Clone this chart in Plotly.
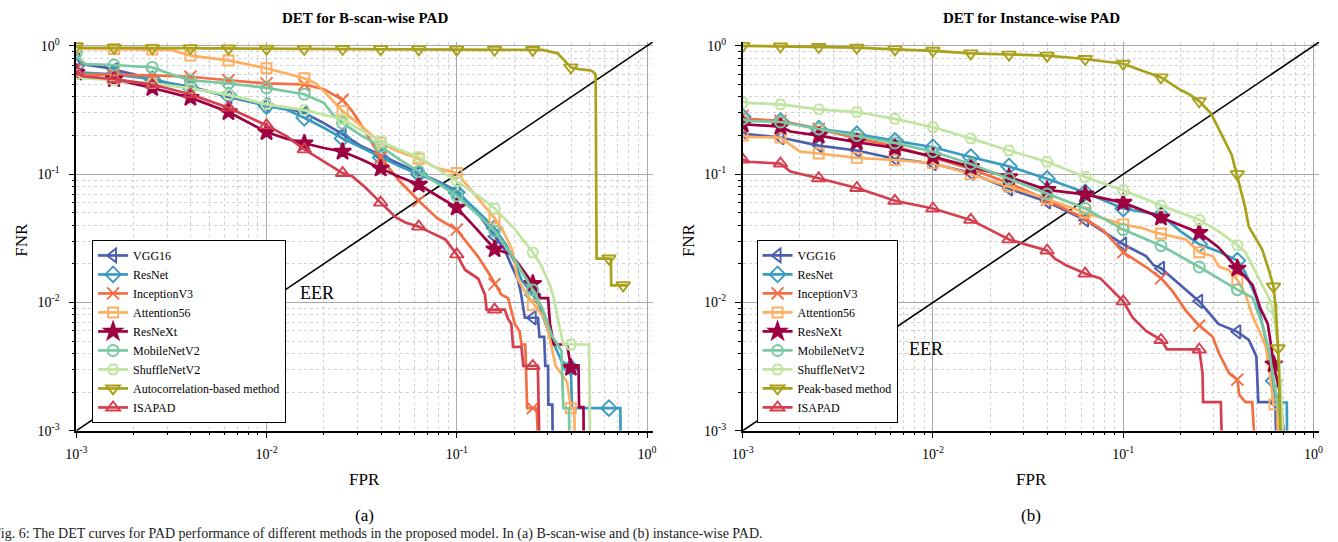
import plotly.graph_objects as go

W, H = 1338, 542
FONT = "Liberation Serif"

# ---------------- ticks ----------------
MAJOR_TICKS = [0.001, 0.01, 0.1, 1.0]
MAJOR_TEXT = ["10<sup>-3</sup>", "10<sup>-2</sup>", "10<sup>-1</sup>", "10<sup>0</sup>"]
MINOR_TICKS = [m * 10.0 ** e for e in (-3, -2, -1) for m in range(2, 10)]

# marker positions along FPR (every 0.2 decade)
MARKER_FPR = [0.001, 0.00158, 0.00251, 0.00398, 0.00631, 0.01, 0.0158, 0.0251,
              0.0398, 0.0631, 0.1, 0.158, 0.251, 0.398, 0.631]

EER_LINE = [0.001, 1.2]

# ---------------- panel (a): B-scan-wise ----------------
A_VGG16_FPR = [0.001, 0.00107, 0.00141, 0.00158, 0.002, 0.00251, 0.00316, 0.00398, 0.00501, 0.00631, 0.00794, 0.01, 0.0126, 0.0158, 0.02, 0.0251, 0.0316, 0.0398, 0.0501, 0.0631, 0.0794, 0.1, 0.126, 0.158, 0.178, 0.195, 0.209, 0.217, 0.228, 0.267, 0.272, 0.288, 0.292, 0.302, 0.303, 0.318, 0.319]
A_VGG16_FNR = [0.80, 0.72, 0.68, 0.65, 0.60, 0.54, 0.51, 0.48, 0.44, 0.40, 0.37, 0.345, 0.33, 0.30, 0.25, 0.205, 0.165, 0.14, 0.12, 0.102, 0.088, 0.074, 0.052, 0.0327, 0.026, 0.019, 0.0153, 0.012, 0.0076, 0.0076, 0.0054, 0.0054, 0.0032, 0.0032, 0.0016, 0.0016, 0.001]
A_VGG16_MK = [0.78, 0.65, 0.54, 0.48, 0.40, 0.345, 0.30, 0.205, 0.14, 0.102, 0.074, 0.0327, 0.0076]

A_RESNET_FPR = [0.001, 0.00107, 0.00158, 0.00251, 0.00398, 0.00631, 0.01, 0.0126, 0.0158, 0.02, 0.0251, 0.0316, 0.0398, 0.0501, 0.0631, 0.0794, 0.1, 0.126, 0.158, 0.182, 0.2, 0.219, 0.251, 0.275, 0.302, 0.331, 0.355, 0.398, 0.403, 0.724, 0.726]
A_RESNET_FNR = [0.70, 0.62, 0.60, 0.55, 0.47, 0.41, 0.34, 0.32, 0.275, 0.23, 0.19, 0.16, 0.135, 0.115, 0.10, 0.087, 0.072, 0.053, 0.038, 0.028, 0.021, 0.015, 0.0115, 0.009, 0.006, 0.0045, 0.0035, 0.0031, 0.0015, 0.0015, 0.001]
A_RESNET_MK = [0.70, 0.60, 0.55, 0.47, 0.41, 0.34, 0.275, 0.19, 0.135, 0.10, 0.072, 0.038, 0.0115, 0.0031, 0.0015]

A_INCEP_FPR = [0.001, 0.00107, 0.00251, 0.00398, 0.00631, 0.01, 0.0158, 0.02, 0.0251, 0.0282, 0.0316, 0.0355, 0.0398, 0.0501, 0.0631, 0.0794, 0.1, 0.1096, 0.1288, 0.1462, 0.1585, 0.1718, 0.1862, 0.195, 0.2018, 0.2138, 0.2188, 0.2291, 0.2344, 0.263, 0.2661]
A_INCEP_FNR = [0.66, 0.60, 0.59, 0.575, 0.54, 0.51, 0.50, 0.46, 0.38, 0.31, 0.24, 0.178, 0.135, 0.088, 0.062, 0.045, 0.037, 0.031, 0.023, 0.0172, 0.0139, 0.0115, 0.0108, 0.0085, 0.0068, 0.006, 0.0047, 0.0047, 0.0015, 0.0015, 0.001]
A_INCEP_MK = [0.66, 0.59, 0.59, 0.575, 0.54, 0.51, 0.50, 0.38, 0.135, 0.062, 0.037, 0.0139, 0.0015]

A_ATTN_FPR = [0.001, 0.00107, 0.00316, 0.00398, 0.00631, 0.01, 0.0158, 0.0182, 0.0204, 0.0224, 0.0251, 0.0302, 0.0355, 0.0398, 0.0479, 0.0631, 0.0794, 0.1, 0.1202, 0.1413, 0.1585, 0.1738, 0.195, 0.2089, 0.2291, 0.257, 0.2884, 0.302, 0.3311, 0.3802, 0.3981, 0.414, 0.4169]
A_ATTN_FNR = [1.0, 0.95, 0.93, 0.84, 0.77, 0.67, 0.56, 0.51, 0.43, 0.37, 0.31, 0.25, 0.205, 0.176, 0.153, 0.132, 0.111, 0.102, 0.074, 0.055, 0.045, 0.037, 0.026, 0.0153, 0.012, 0.0095, 0.0076, 0.006, 0.0032, 0.0024, 0.0015, 0.0015, 0.001]
A_ATTN_MK = [0.98, 0.945, 0.935, 0.84, 0.77, 0.67, 0.56, 0.31, 0.176, 0.132, 0.102, 0.045, 0.0095, 0.0015]

A_RESNEXT_FPR = [0.001, 0.00107, 0.00158, 0.00251, 0.00398, 0.00631, 0.01, 0.0126, 0.0158, 0.02, 0.0251, 0.0316, 0.0398, 0.0501, 0.0631, 0.0794, 0.1, 0.1259, 0.1585, 0.1905, 0.2138, 0.2512, 0.2754, 0.302, 0.309, 0.3236, 0.3802, 0.3981, 0.4365, 0.4395, 0.4634, 0.4645]
A_RESNEXT_FNR = [0.62, 0.57, 0.55, 0.47, 0.395, 0.305, 0.213, 0.19, 0.174, 0.16, 0.15, 0.13, 0.111, 0.095, 0.083, 0.068, 0.055, 0.038, 0.026, 0.024, 0.0195, 0.014, 0.0108, 0.0108, 0.0068, 0.0047, 0.0047, 0.0031, 0.0031, 0.00153, 0.00153, 0.001]
A_RESNEXT_MK = [0.62, 0.55, 0.47, 0.395, 0.305, 0.213, 0.174, 0.15, 0.111, 0.083, 0.055, 0.026, 0.014, 0.0031]

A_MOBILE_FPR = [0.001, 0.00105, 0.00112, 0.00158, 0.00251, 0.00316, 0.00398, 0.00631, 0.01, 0.0158, 0.02, 0.0224, 0.0251, 0.0316, 0.0398, 0.0501, 0.0631, 0.0794, 0.1, 0.1259, 0.1585, 0.1995, 0.2512, 0.2818, 0.3162, 0.3548, 0.3631, 0.389, 0.390]
A_MOBILE_FNR = [0.88, 0.78, 0.72, 0.71, 0.68, 0.60, 0.54, 0.51, 0.47, 0.42, 0.36, 0.29, 0.25, 0.20, 0.165, 0.13, 0.105, 0.085, 0.068, 0.05, 0.036, 0.022, 0.0125, 0.009, 0.0055, 0.0042, 0.0015, 0.0015, 0.001]
A_MOBILE_MK = [0.88, 0.71, 0.68, 0.54, 0.51, 0.47, 0.42, 0.25, 0.165, 0.105, 0.068, 0.036, 0.0125]

A_SHUFFLE_FPR = [0.001, 0.00107, 0.00158, 0.00251, 0.00398, 0.00631, 0.01, 0.0158, 0.0251, 0.0316, 0.0398, 0.0501, 0.0631, 0.0794, 0.1, 0.1259, 0.1585, 0.1995, 0.2512, 0.2754, 0.309, 0.3236, 0.3388, 0.3631, 0.4955, 0.5012]
A_SHUFFLE_FNR = [0.60, 0.56, 0.54, 0.51, 0.466, 0.415, 0.35, 0.316, 0.268, 0.22, 0.18, 0.155, 0.136, 0.11, 0.088, 0.07, 0.054, 0.038, 0.0245, 0.02, 0.0136, 0.0108, 0.0076, 0.0047, 0.0047, 0.001]
A_SHUFFLE_MK = [0.60, 0.54, 0.51, 0.466, 0.415, 0.35, 0.316, 0.268, 0.18, 0.136, 0.088, 0.054, 0.0245, 0.0047]

A_AUTO_FPR = [0.001, 0.00105, 0.00316, 0.01, 0.0316, 0.1, 0.2818, 0.3388, 0.3981, 0.4365, 0.5012, 0.5188, 0.537, 0.5433, 0.6457, 0.6486, 0.787]
A_AUTO_FNR = [1.0, 0.97, 0.96, 0.95, 0.945, 0.935, 0.93, 0.875, 0.68, 0.66, 0.645, 0.63, 0.60, 0.022, 0.022, 0.0136, 0.0136]
A_AUTO_MK = [0.99, 0.965, 0.96, 0.958, 0.955, 0.95, 0.948, 0.946, 0.944, 0.94, 0.935, 0.933, 0.93, 0.68, 0.022]
A_AUTO_EXTRA = [(0.75, 0.0136)]

A_ISAPAD_FPR = [0.001, 0.00107, 0.00158, 0.00251, 0.00398, 0.00631, 0.01, 0.0126, 0.0158, 0.02, 0.0251, 0.0283, 0.0333, 0.0398, 0.0479, 0.0537, 0.0631, 0.0741, 0.0871, 0.1, 0.1104, 0.1297, 0.1406, 0.1435, 0.1786, 0.1862, 0.1936, 0.1977, 0.2188, 0.2239, 0.2667, 0.271]
A_ISAPAD_FNR = [0.63, 0.58, 0.55, 0.50, 0.42, 0.33, 0.24, 0.20, 0.156, 0.125, 0.102, 0.096, 0.078, 0.06, 0.046, 0.042, 0.039, 0.0347, 0.031, 0.0237, 0.018, 0.0153, 0.0115, 0.0088, 0.0088, 0.0074, 0.0068, 0.0045, 0.0045, 0.0032, 0.0032, 0.001]
A_ISAPAD_MK = [0.63, 0.55, 0.50, 0.42, 0.33, 0.24, 0.156, 0.102, 0.06, 0.039, 0.0237, 0.0088, 0.0032]

# ---------------- panel (b): Instance-wise ----------------
B_VGG16_FPR = [0.001, 0.00105, 0.00158, 0.00251, 0.00398, 0.00631, 0.01, 0.0158, 0.0251, 0.0398, 0.0631, 0.1, 0.1122, 0.1318, 0.1445, 0.1585, 0.1995, 0.2512, 0.3162, 0.3981, 0.4571, 0.5012, 0.5129, 0.631, 0.6353]
B_VGG16_FNR = [0.215, 0.205, 0.193, 0.167, 0.153, 0.132, 0.121, 0.102, 0.077, 0.061, 0.044, 0.0284, 0.026, 0.023, 0.0195, 0.0184, 0.0137, 0.0102, 0.0068, 0.0059, 0.0051, 0.0038, 0.00167, 0.00167, 0.001]
B_VGG16_MK = [0.215, 0.193, 0.167, 0.153, 0.132, 0.121, 0.102, 0.077, 0.061, 0.044, 0.0284, 0.0184, 0.0102, 0.0059, 0.00167]

B_RESNET_FPR = [0.001, 0.00105, 0.00158, 0.00251, 0.00398, 0.00631, 0.01, 0.0158, 0.0251, 0.0398, 0.0631, 0.1, 0.1585, 0.1995, 0.2512, 0.3162, 0.3981, 0.4365, 0.5012, 0.5623, 0.631, 0.6383, 0.7244, 0.7261]
B_RESNET_FNR = [0.28, 0.265, 0.259, 0.226, 0.205, 0.182, 0.162, 0.136, 0.115, 0.092, 0.072, 0.054, 0.048, 0.036, 0.0284, 0.025, 0.0212, 0.0173, 0.0109, 0.0051, 0.0019, 0.00166, 0.00166, 0.001]
B_RESNET_MK = [0.28, 0.259, 0.226, 0.205, 0.182, 0.162, 0.136, 0.115, 0.092, 0.072, 0.054, 0.048, 0.0284, 0.0212]
B_RESNET_EXTRA = [(0.618, 0.00245)]

B_INCEP_FPR = [0.001, 0.00105, 0.00158, 0.00251, 0.00398, 0.00631, 0.01, 0.0158, 0.0251, 0.0398, 0.0631, 0.0794, 0.1, 0.1318, 0.1585, 0.182, 0.2138, 0.2512, 0.2951, 0.3192, 0.3606, 0.3981, 0.4074, 0.4395, 0.4764, 0.4864]
B_INCEP_FNR = [0.285, 0.27, 0.26, 0.225, 0.19, 0.165, 0.135, 0.11, 0.085, 0.063, 0.045, 0.036, 0.0246, 0.0189, 0.0154, 0.0122, 0.0086, 0.0066, 0.0054, 0.004, 0.0028, 0.0025, 0.0019, 0.00167, 0.00167, 0.001]
B_INCEP_MK = [0.285, 0.26, 0.225, 0.19, 0.165, 0.135, 0.11, 0.085, 0.063, 0.045, 0.0246, 0.0154, 0.0066, 0.0025]

B_ATTN_FPR = [0.001, 0.00105, 0.00158, 0.002, 0.00251, 0.00398, 0.00631, 0.01, 0.0158, 0.0251, 0.0398, 0.0631, 0.1, 0.1259, 0.1479, 0.2138, 0.2512, 0.2951, 0.3192, 0.3606, 0.3981, 0.4395, 0.4786, 0.5248, 0.5623, 0.5888, 0.6166, 0.6457, 0.6486]
B_ATTN_FNR = [0.20, 0.195, 0.193, 0.15, 0.145, 0.134, 0.129, 0.122, 0.10, 0.08, 0.064, 0.05, 0.0405, 0.038, 0.035, 0.031, 0.0246, 0.023, 0.019, 0.0178, 0.015, 0.0115, 0.0078, 0.0058, 0.0045, 0.0028, 0.0016, 0.0016, 0.001]
B_ATTN_MK = [0.20, 0.193, 0.145, 0.134, 0.129, 0.122, 0.10, 0.08, 0.064, 0.05, 0.0405, 0.0345, 0.0246, 0.015]
B_ATTN_EXTRA = [(0.6237, 0.0016)]

B_RESNEXT_FPR = [0.001, 0.00158, 0.00178, 0.00251, 0.00398, 0.00631, 0.01, 0.0158, 0.0251, 0.0398, 0.0631, 0.1, 0.1585, 0.2512, 0.3162, 0.3981, 0.4786, 0.5248, 0.5754, 0.6026, 0.6166, 0.6607, 0.6918, 0.6966]
B_RESNEXT_FNR = [0.245, 0.235, 0.215, 0.2, 0.178, 0.16, 0.137, 0.114, 0.095, 0.0755, 0.0696, 0.06, 0.046, 0.035, 0.027, 0.0184, 0.0137, 0.0091, 0.0068, 0.0043, 0.0033, 0.0021, 0.0012, 0.001]
B_RESNEXT_MK = [0.245, 0.235, 0.2, 0.178, 0.16, 0.137, 0.114, 0.095, 0.0755, 0.0696, 0.06, 0.046, 0.035, 0.0184]
B_RESNEXT_EXTRA = [(0.618, 0.0033)]

B_MOBILE_FPR = [0.001, 0.00105, 0.00158, 0.00251, 0.00398, 0.00631, 0.01, 0.0158, 0.0251, 0.0398, 0.0631, 0.1, 0.1585, 0.2512, 0.3981, 0.4786, 0.537, 0.5821, 0.631, 0.6839]
B_MOBILE_FNR = [0.27, 0.26, 0.255, 0.225, 0.2, 0.175, 0.15, 0.12, 0.092, 0.07, 0.054, 0.037, 0.0277, 0.0189, 0.0126, 0.0109, 0.0068, 0.0043, 0.0021, 0.001]
B_MOBILE_MK = [0.27, 0.255, 0.225, 0.2, 0.175, 0.15, 0.12, 0.092, 0.07, 0.054, 0.037, 0.0277, 0.0189, 0.0126]

B_SHUFFLE_FPR = [0.001, 0.00105, 0.00158, 0.00251, 0.00398, 0.00631, 0.01, 0.0158, 0.0251, 0.0398, 0.0631, 0.1, 0.1585, 0.2512, 0.3162, 0.3981, 0.4395, 0.4764, 0.5164, 0.5598, 0.5821, 0.6067, 0.631, 0.6607, 0.6761, 0.6918]
B_SHUFFLE_FNR = [0.37, 0.36, 0.35, 0.32, 0.305, 0.27, 0.232, 0.19, 0.153, 0.125, 0.095, 0.075, 0.057, 0.044, 0.036, 0.028, 0.0246, 0.0195, 0.0155, 0.0122, 0.0109, 0.0093, 0.0065, 0.0035, 0.002, 0.001]
B_SHUFFLE_MK = [0.36, 0.35, 0.32, 0.305, 0.27, 0.232, 0.19, 0.153, 0.125, 0.095, 0.075, 0.057, 0.044, 0.028]
B_SHUFFLE_EXTRA = [(0.6067, 0.0093)]

B_PEAK_FPR = [0.001, 0.00251, 0.00398, 0.00631, 0.01, 0.0158, 0.0251, 0.0398, 0.0631, 0.1, 0.1259, 0.1585, 0.1995, 0.2239, 0.2512, 0.2884, 0.3311, 0.3715, 0.389, 0.4365, 0.4571, 0.5012, 0.537, 0.5821, 0.6166, 0.6353, 0.6516, 0.6622, 0.6699]
B_PEAK_FNR = [1.0, 0.98, 0.97, 0.94, 0.916, 0.875, 0.855, 0.84, 0.79, 0.726, 0.64, 0.568, 0.455, 0.417, 0.37, 0.30, 0.20, 0.142, 0.109, 0.056, 0.039, 0.031, 0.026, 0.018, 0.0133, 0.0086, 0.0044, 0.0022, 0.001]
B_PEAK_MK = [1.0, 0.99, 0.98, 0.97, 0.94, 0.916, 0.875, 0.855, 0.84, 0.79, 0.726, 0.568, 0.37, 0.10]
B_PEAK_EXTRA = [(0.6166, 0.0133), (0.6516, 0.0044)]

B_ISAPAD_FPR = [0.001, 0.00107, 0.00158, 0.00178, 0.00251, 0.00398, 0.00631, 0.01, 0.0158, 0.02, 0.0251, 0.0316, 0.0398, 0.0437, 0.0501, 0.0631, 0.0759, 0.1, 0.1122, 0.1318, 0.1585, 0.1698, 0.2512, 0.2612, 0.263, 0.3258, 0.3289]
B_ISAPAD_FNR = [0.13, 0.125, 0.121, 0.105, 0.093, 0.078, 0.062, 0.054, 0.044, 0.037, 0.031, 0.028, 0.0254, 0.0219, 0.0195, 0.0168, 0.0154, 0.0102, 0.0076, 0.006, 0.0051, 0.0043, 0.0043, 0.0028, 0.00167, 0.00167, 0.001]
B_ISAPAD_MK = [0.13, 0.121, 0.093, 0.078, 0.062, 0.054, 0.044, 0.031, 0.0254, 0.0168, 0.0102, 0.0051, 0.0043]

# ---------------- styles ----------------
COLORS = {
    "VGG16": "#4b5fae",
    "ResNet": "#3a9bc1",
    "InceptionV3": "#f46d43",
    "Attention56": "#fdae61",
    "ResNeXt": "#9e0142",
    "MobileNetV2": "#78c9a1",
    "ShuffleNetV2": "#bfe5a0",
    "Autocorrelation-based method": "#a9a11a",
    "Peak-based method": "#a9a11a",
    "ISAPAD": "#d53e4f",
}
SYMBOLS = {
    "VGG16": "triangle-left-open",
    "ResNet": "diamond-open",
    "InceptionV3": "x-thin-open",
    "Attention56": "square-open",
    "ResNeXt": "star",
    "MobileNetV2": "circle-open",
    "ShuffleNetV2": "hexagon2-open",
    "Autocorrelation-based method": "triangle-down-open",
    "Peak-based method": "triangle-down-open",
    "ISAPAD": "triangle-up-open",
}
SIZES = {"x-thin-open": 12, "star": 13, "square-open": 10, "circle-open": 11,
         "hexagon2-open": 11, "diamond-open": 12}

PANEL_A = [
    ("VGG16", A_VGG16_FPR, A_VGG16_FNR, A_VGG16_MK, []),
    ("ResNet", A_RESNET_FPR, A_RESNET_FNR, A_RESNET_MK, []),
    ("InceptionV3", A_INCEP_FPR, A_INCEP_FNR, A_INCEP_MK, []),
    ("Attention56", A_ATTN_FPR, A_ATTN_FNR, A_ATTN_MK, []),
    ("ResNeXt", A_RESNEXT_FPR, A_RESNEXT_FNR, A_RESNEXT_MK, []),
    ("MobileNetV2", A_MOBILE_FPR, A_MOBILE_FNR, A_MOBILE_MK, []),
    ("ShuffleNetV2", A_SHUFFLE_FPR, A_SHUFFLE_FNR, A_SHUFFLE_MK, []),
    ("Autocorrelation-based method", A_AUTO_FPR, A_AUTO_FNR, A_AUTO_MK, A_AUTO_EXTRA),
    ("ISAPAD", A_ISAPAD_FPR, A_ISAPAD_FNR, A_ISAPAD_MK, []),
]
PANEL_B = [
    ("VGG16", B_VGG16_FPR, B_VGG16_FNR, B_VGG16_MK, []),
    ("ResNet", B_RESNET_FPR, B_RESNET_FNR, B_RESNET_MK, B_RESNET_EXTRA),
    ("InceptionV3", B_INCEP_FPR, B_INCEP_FNR, B_INCEP_MK, []),
    ("Attention56", B_ATTN_FPR, B_ATTN_FNR, B_ATTN_MK, B_ATTN_EXTRA),
    ("ResNeXt", B_RESNEXT_FPR, B_RESNEXT_FNR, B_RESNEXT_MK, B_RESNEXT_EXTRA),
    ("MobileNetV2", B_MOBILE_FPR, B_MOBILE_FNR, B_MOBILE_MK, []),
    ("ShuffleNetV2", B_SHUFFLE_FPR, B_SHUFFLE_FNR, B_SHUFFLE_MK, B_SHUFFLE_EXTRA),
    ("Peak-based method", B_PEAK_FPR, B_PEAK_FNR, B_PEAK_MK, B_PEAK_EXTRA),
    ("ISAPAD", B_ISAPAD_FPR, B_ISAPAD_FNR, B_ISAPAD_MK, []),
]


def marker_style(name):
    sym = SYMBOLS[name]
    col = COLORS[name]
    return dict(symbol=sym, size=SIZES.get(sym, 12), color=col,
                line=dict(color=col, width=1.9))


fig = go.Figure()


def add_panel(curves, xa, ya, legend):
    # diagonal EER reference line
    fig.add_trace(go.Scatter(x=EER_LINE, y=EER_LINE, mode="lines",
                             line=dict(color="black", width=1.6),
                             xaxis=xa, yaxis=ya, showlegend=False, hoverinfo="skip"))
    for name, fpr, fnr, mk, extra in curves:
        col = COLORS[name]
        fig.add_trace(go.Scatter(x=fpr, y=fnr, mode="lines",
                                 line=dict(color=col, width=2.7),
                                 xaxis=xa, yaxis=ya, showlegend=False, hoverinfo="skip"))
        mx = MARKER_FPR[:len(mk)] + [e[0] for e in extra]
        my = list(mk) + [e[1] for e in extra]
        fig.add_trace(go.Scatter(x=mx, y=my, mode="markers", marker=marker_style(name),
                                 xaxis=xa, yaxis=ya, showlegend=False, hoverinfo="skip"))
        fig.add_trace(go.Scatter(x=[None], y=[None], mode="lines+markers", name=name,
                                 line=dict(color=col, width=2.7), marker=marker_style(name),
                                 xaxis=xa, yaxis=ya, legend=legend, showlegend=True))


add_panel(PANEL_A, "x", "y", "legend")
add_panel(PANEL_B, "x2", "y2", "legend2")

PX_L1, PX_R1 = 66, 649
PX_L2, PX_R2 = 740, 1323
PY_T, PY_B = 37, 436
y_dom = [(H - PY_B) / H, (H - PY_T) / H]


def axis(dom, anchor, standoff):
    return dict(type="log", range=[-3, 0.03], domain=dom, anchor=anchor,
                tickmode="array", tickvals=MAJOR_TICKS, ticktext=MAJOR_TEXT,
                ticks="outside", ticklen=6, tickwidth=1, tickcolor="black",
                ticklabelstandoff=standoff,
                showline=True, linecolor="black", linewidth=1.5, mirror=False,
                showgrid=True, gridcolor="#a9a9a9", gridwidth=1.2, zeroline=False,
                tickfont=dict(family=FONT, size=14, color="black"),
                minor=dict(tickmode="array", tickvals=MINOR_TICKS, ticks="outside",
                           ticklen=3, tickwidth=1, tickcolor="black", showgrid=True,
                           gridcolor="#d2d2d2", gridwidth=1, griddash="dot"))


legend_common = dict(xanchor="left", yanchor="bottom", bgcolor="white",
                     bordercolor="black", borderwidth=1, tracegroupgap=0,
                     font=dict(family=FONT, size=12, color="black"))

fig.update_layout(
    width=W, height=H, autosize=False,
    margin=dict(l=0, r=0, t=0, b=0),
    paper_bgcolor="white", plot_bgcolor="white",
    font=dict(family=FONT, color="black"),
    xaxis=axis([PX_L1 / W, PX_R1 / W], "y", 4),
    yaxis=axis(y_dom, "x", 6),
    xaxis2=axis([PX_L2 / W, PX_R2 / W], "y2", 4),
    yaxis2=axis(y_dom, "x2", 6),
    legend=dict(x=82 / W, y=(H - 428) / H, **legend_common),
    legend2=dict(x=754 / W, y=(H - 428) / H, **legend_common),
)


def px_ann(text, x, y, size, bold=False, angle=0, xanchor="center", yanchor="middle", color="black"):
    fig.add_annotation(text=("<b>%s</b>" % text) if bold else text,
                       x=x / W, y=1 - y / H, xref="paper", yref="paper",
                       xanchor=xanchor, yanchor=yanchor, showarrow=False, textangle=angle,
                       font=dict(family=FONT, size=size, color=color))


px_ann("DET for B-scan-wise PAD", 358, 12, 15, bold=True)
px_ann("DET for Instance-wise PAD", 1032, 12, 15, bold=True)
px_ann("FNR", 11, 240, 17, angle=-90)
px_ann("FNR", 685, 240, 17, angle=-90)
px_ann("FPR", 358, 486, 17)
px_ann("FPR", 1032, 486, 17)
px_ann("(a)", 358, 523, 17)
px_ann("(b)", 1032, 523, 17)
px_ann("EER", 309, 295, 18)
px_ann("EER", 925, 352, 18)
px_ann("Fig. 6: The DET curves for PAD performance of different methods in the proposed model. In (a) B-scan-wise and (b) instance-wise PAD.",
       -20, 542, 14, xanchor="left", yanchor="middle", color="#222222")

fig.write_html("out.html")
